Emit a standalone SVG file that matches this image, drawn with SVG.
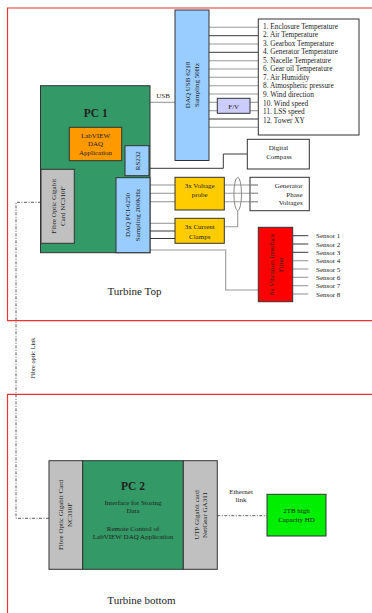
<svg xmlns="http://www.w3.org/2000/svg" width="372" height="613" viewBox="0 0 372 613">
<style>
text{font-family:"Liberation Serif","Times New Roman",serif;fill:#222}
.frame{fill:none;stroke:#ee3333;stroke-width:1.2}
.box{stroke:#333;stroke-width:1}
.g{stroke:#9a9a9a;stroke-width:1.1;fill:none}
.k{stroke:#222;stroke-width:0.9;fill:none}
.dd{stroke:#333;stroke-width:0.8;fill:none;stroke-dasharray:3,1.5,1,1.5}
.s7{font-size:7px}
.s75{font-size:7.3px}
.s6{font-size:6.3px}
.c{text-anchor:middle}
.r{text-anchor:end}
</style>
<g id="frames">
<path class="frame" d="M380,8 H7.5 V320.7 H380"/>
<path class="frame" d="M380,394.3 H7.5 V620"/>
</g>
<g id="connectors">
<line class="g" x1="150" y1="102.3" x2="175" y2="102.3"/>
<line class="g" x1="209" y1="27.3" x2="258" y2="27.3"/>
<line class="k" x1="209" y1="35.7" x2="258" y2="35.7"/>
<line class="g" x1="209" y1="44" x2="258" y2="44"/>
<line class="k" x1="209" y1="52.3" x2="258" y2="52.3"/>
<line class="g" x1="209" y1="60.7" x2="258" y2="60.7"/>
<line class="g" x1="209" y1="69" x2="258" y2="69"/>
<line class="g" x1="209" y1="77.3" x2="258" y2="77.3"/>
<line class="g" x1="209" y1="85.7" x2="258" y2="85.7"/>
<line class="g" x1="209" y1="94" x2="258" y2="94"/>
<line class="g" x1="209" y1="102.3" x2="217.3" y2="102.3"/>
<line class="g" x1="250" y1="102.3" x2="258" y2="102.3"/>
<line class="g" x1="209" y1="110.7" x2="217.3" y2="110.7"/>
<line class="g" x1="250" y1="110.7" x2="258" y2="110.7"/>
<line class="k" x1="209" y1="119" x2="258" y2="119"/>
<line class="g" x1="209" y1="127.3" x2="258" y2="127.3"/>
<polyline class="k" points="149,168.3 223.3,168.3 223.3,154 247.3,154"/>
<line class="g" x1="150" y1="185" x2="175" y2="185"/>
<line class="g" x1="150" y1="193.3" x2="175" y2="193.3"/>
<line class="g" x1="150" y1="201.7" x2="175" y2="201.7"/>
<line class="g" x1="224.3" y1="185" x2="258" y2="185"/>
<line class="g" x1="224.3" y1="193.3" x2="258" y2="193.3"/>
<line class="g" x1="224.3" y1="201.7" x2="258" y2="201.7"/>
<ellipse cx="237.7" cy="194" rx="3.8" ry="16.7" fill="none" stroke="#888" stroke-width="1"/>
<line class="g" x1="150" y1="223.3" x2="175" y2="223.3"/>
<line class="k" x1="150" y1="231" x2="175" y2="231"/>
<line class="k" x1="150" y1="238.5" x2="175" y2="238.5"/>
<polyline class="g" points="224.3,226.7 237.7,226.7 237.7,210.7"/>
<polyline class="g" points="150,250 225.7,250 225.7,290 258.3,290"/>
<line class="k" x1="292.7" y1="235.7" x2="308.3" y2="235.7"/>
<line class="k" x1="292.7" y1="244" x2="308.3" y2="244"/>
<line class="k" x1="292.7" y1="252.3" x2="308.3" y2="252.3"/>
<line class="g" x1="292.7" y1="260.7" x2="308.3" y2="260.7"/>
<line class="g" x1="292.7" y1="269" x2="308.3" y2="269"/>
<line class="g" x1="292.7" y1="277.3" x2="308.3" y2="277.3"/>
<line class="g" x1="292.7" y1="285.7" x2="308.3" y2="285.7"/>
<line class="g" x1="292.7" y1="294" x2="308.3" y2="294"/>
<polyline class="dd" points="41,202.3 16,202.3 16,518.3 49,518.3"/>
<line class="dd" x1="217.3" y1="515.7" x2="266.7" y2="515.7"/>
</g>
<g id="pc1">
<rect class="box" x="40.5" y="85.7" width="109.5" height="167" fill="#339966"/>
<text x="95.7" y="117" class="c" font-size="11.5" font-weight="bold">PC 1</text>
</g>
<g id="labview">
<rect class="box" x="69.3" y="127.3" width="52.4" height="33.4" fill="#ff9900"/>
<text x="95.5" y="138" class="c s7">LabVIEW</text>
<text x="95.5" y="146" class="c s7">DAQ</text>
<text x="95.5" y="154.5" class="c s7">Application</text>
</g>
<g id="rs232">
<rect class="box" x="125" y="145.7" width="24" height="30" fill="#99ccff"/>
<text transform="translate(139.5,160.7) rotate(-90)" class="c s7">RS232</text>
</g>
<g id="daq-pci">
<rect class="box" x="116" y="177.7" width="34" height="75" fill="#99ccff"/>
<text transform="translate(130,215) rotate(-90)" class="c s7">DAQ PCI-6250</text>
<text transform="translate(139.5,215) rotate(-90)" class="c s7">Sampling 200KHz</text>
</g>
<g id="fibre-card-1">
<rect class="box" x="41" y="169.3" width="33.3" height="74" fill="#c0c0c0"/>
<text transform="translate(56,206.3) rotate(-90)" class="c s7">Fibre Optic Gigabit</text>
<text transform="translate(65,206.3) rotate(-90)" class="c s7">Card NC310F</text>
</g>
<g id="daq-usb">
<rect class="box" x="175" y="10" width="34" height="150.5" fill="#99ccff"/>
<text transform="translate(190,85) rotate(-90)" class="c s7">DAQ USB 6218</text>
<text transform="translate(199,85) rotate(-90)" class="c s7">Sampling 50Hz</text>
</g>
<text x="163" y="98" class="c s7">USB</text>
<g id="fv">
<rect class="box" x="217.3" y="98.3" width="32.7" height="15" fill="#ccccff"/>
<text x="233.7" y="108.5" class="c s7">F/V</text>
</g>
<g id="sensor-list">
<rect class="box" x="258.3" y="19" width="100.7" height="116" fill="#fff"/>
<text class="s75" x="263">
<tspan x="263" y="28.6">1. Enclosure Temperature</tspan>
<tspan x="263" y="37.1">2. Air Temperature</tspan>
<tspan x="263" y="45.7">3. Gearbox Temperature</tspan>
<tspan x="263" y="54.2">4. Generator Temperature</tspan>
<tspan x="263" y="62.8">5. Nacelle Temperature</tspan>
<tspan x="263" y="71.3">6. Gear oil Temperature</tspan>
<tspan x="263" y="79.9">7. Air Humidity</tspan>
<tspan x="263" y="88.4">8. Atmospheric pressure</tspan>
<tspan x="263" y="97">9. Wind direction</tspan>
<tspan x="263" y="105.5">10. Wind speed</tspan>
<tspan x="263" y="114.1">11. LSS speed</tspan>
<tspan x="263" y="122.6">12. Tower XY</tspan>
</text>
</g>
<g id="compass">
<rect class="box" x="247.3" y="139.3" width="62" height="29.7" fill="#fff"/>
<text x="278.5" y="149.8" class="c s7">Digital</text>
<text x="279" y="158.5" class="c s7">Compass</text>
</g>
<g id="voltage-probe">
<rect class="box" x="175" y="177.3" width="49.3" height="32.7" fill="#ffcc00"/>
<text x="199.7" y="187.5" class="c s7">3x Voltage</text>
<text x="199.7" y="196.5" class="c s7">probe</text>
</g>
<g id="current-clamps">
<rect class="box" x="175" y="218.3" width="49.3" height="25" fill="#ffcc00"/>
<text x="199.7" y="229.2" class="c s7">3x Current</text>
<text x="199.7" y="239.2" class="c s7">Clamps</text>
</g>
<g id="generator">
<rect class="box" x="250" y="177.3" width="59.3" height="33.4" fill="none"/>
<line class="g" x1="250" y1="185" x2="258" y2="185"/>
<line class="g" x1="250" y1="193.3" x2="258" y2="193.3"/>
<line class="g" x1="250" y1="201.7" x2="258" y2="201.7"/>
<text x="302.7" y="188.2" class="r s7">Generator</text>
<text x="302.7" y="196.5" class="r s7">Phase</text>
<text x="302.7" y="205" class="r s7">Voltages</text>
</g>
<g id="vibration">
<rect class="box" x="258.3" y="227.3" width="34.4" height="74.4" fill="#ff0000"/>
<text transform="translate(274,264.5) rotate(-90)" class="c s7">8x Vibration Interface</text>
<text transform="translate(282.5,264.5) rotate(-90)" class="c s7">Filter</text>
</g>
<g id="sensors">
<text class="s7">
<tspan x="316" y="238.2">Sensor 1</tspan>
<tspan x="316" y="246.5">Sensor 2</tspan>
<tspan x="316" y="254.8">Sensor 3</tspan>
<tspan x="316" y="263.2">Sensor 4</tspan>
<tspan x="316" y="271.5">Sensor 5</tspan>
<tspan x="316" y="279.8">Sensor 6</tspan>
<tspan x="316" y="288.2">Sensor 7</tspan>
<tspan x="316" y="296.5">Sensor 8</tspan>
</text>
</g>
<text x="134.5" y="295" class="c" font-size="11">Turbine Top</text>
<text transform="translate(35,358) rotate(-90)" class="c s6">Fibre optic Link</text>
<g id="fibre-card-2">
<rect class="box" x="49" y="460.7" width="33.7" height="108.6" fill="#c0c0c0"/>
<text transform="translate(63,515) rotate(-90)" class="c s7">Fibre Optic Gigabit Card</text>
<text transform="translate(71.5,515) rotate(-90)" class="c s7">NC310F</text>
</g>
<g id="pc2">
<rect class="box" x="82.7" y="460.7" width="100.6" height="108.6" fill="#339966"/>
<text x="133" y="490" class="c" font-size="11.5" font-weight="bold">PC 2</text>
<text x="133" y="504.5" class="c s7">Interface for Storing</text>
<text x="133" y="513.3" class="c s7">Data</text>
<text x="133" y="530.5" class="c s7">Remote Control of</text>
<text x="133" y="539" class="c s7">LabVIEW DAQ Application</text>
</g>
<g id="utp-card">
<rect class="box" x="183.3" y="460.7" width="34" height="108.6" fill="#c0c0c0"/>
<text transform="translate(198.5,515) rotate(-90)" class="c s7">UTP Gigabit card</text>
<text transform="translate(206.5,515) rotate(-90)" class="c s7">NetGear GA311</text>
</g>
<text x="241" y="494" class="c s7">Ethernet</text>
<text x="241" y="501.7" class="c s7">link</text>
<g id="hd">
<rect class="box" x="267" y="494.3" width="59" height="41.7" fill="#00ee00"/>
<text x="296.5" y="513" class="c s7">2TB high</text>
<text x="296.5" y="521.5" class="c s7">Capacity HD</text>
</g>
<text x="141.5" y="603.5" class="c" font-size="11">Turbine bottom</text>
</svg>
